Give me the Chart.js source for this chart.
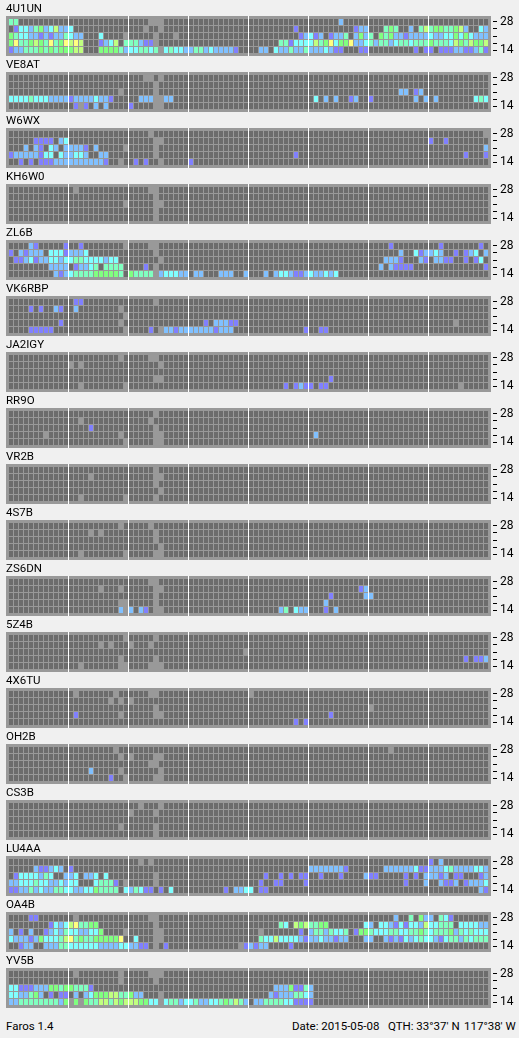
<!DOCTYPE html>
<html>
<head>
<meta charset="utf-8">
<title>Faros</title>
<script src="https://cdn.jsdelivr.net/npm/chart.js@4"></script>
<style>
  html, body { margin: 0; padding: 0; background: #f0f0f0; }
  body { width: 519px; height: 1038px; position: relative; overflow: hidden; font-family: Roboto, sans-serif; font-size: 11.5px; color: #000; }
  canvas { display: block; }
  .foot { position: absolute; top: 1019px; white-space: pre; line-height: 14px; }
</style>
</head>
<body>
<div id="panels"></div>
<div class="foot" style="left:6px">Faros 1.4</div>
<div class="foot" style="left:292px">Date: 2015-05-08</div>
<div class="foot" style="left:388px">QTH: 33°37' N</div>
<div class="foot" style="left:464px">117°38' W</div>
<script>
// rows go top to bottom (28 .. 14), 8 groups of 12 quarter hours
// . no signal, x no data, 1-7 signal level, - a whole empty group
const bands = ["14", "18", "21", "24", "28"];
const stations = ["4U1UN", "VE8AT", "W6WX", "KH6W0", "ZL6B", "VK6RBP", "JA2IGY", "RR9O", "VR2B", "4S7B", "ZS6DN", "5Z4B", "4X6TU", "OH2B", "CS3B", "LU4AA", "OA4B", "YV5B"];

const s4U1UN = [
  "44.......... - ....xxx..... - - ......2..... - -",
  ".13324523622 3........... ...x..x..... - .........1.. .........122 ...454..2.46 45544562..32",
  "543322121224 322...3....x .....x...x.. - ..........12 312.1224.252 4.5452212222 322335353222",
  "574456547457 676...1236.4 44211x...... - ......441333 364573557223 424423443444 544436546556",
  "122444545455 566...555542 334434x34332 2442322221.. ..22.3224224 2223211...11 .........1.1 1.1112211241"
];
const sVE8AT = [
  "- - ...xx.x..... - - - - -",
  "- - .....x...... - - - - -",
  "- ..........x. .....x...... - - - ......22.12. -",
  "333343332222 122223221... ..222xx22... - - .3.2.2..12.. 1........2.2 .2.......343",
  "- .1x1.2.2.... 1....xx..... - - - - -"
];
const sW6WX = [
  "- - ....x....... - - - - ...........x",
  ".....1111.23 - .....xx..... - - - - 1..1........",
  "...2.21.32.2 2221.2.....x .....x...... - - - - ...........2",
  "122222133.32 2332..22.... .....x...... - .........1.. - - .......1...1",
  "..1.1.111222 22222221..x. .1.1..x..... 1........... - - - -"
];
const sKH6W0 = [
  "- .x.......... ....xx...... - - - - -",
  "- - .....x...... - - - - -",
  "- ...........x .....xx..... - - - - -",
  "- - .....x...... - - - - -",
  "- - .....x...... - - - - -"
];
const sZL6B = [
  "....21.....1 ..1........x ....xx...... - - - ....1....... ..1.......1.",
  "1.21222.3331 2223........ .....x...... - - - ......2..312 232..1.123.2",
  ".11231223323 3443333233.. ......x..... - - - ...2221...21 .2211..1.13.",
  "........2222 .12234.4444. ...1.x...... - - - ..2.21111... ...........1",
  ".........212 34444555554. 54444x233322 .22...222..2 ...2.2332112 322323...... - -"
];
const sVK6RBP = [
  "- .11......... .....x...... - - - - -",
  "....1.1..21. .2........x. - - - - - -",
  "- ...........x - - - - - -",
  "..........1. ..........x. - ...1.22211.. - - - .....x......",
  "....11111... ...........x ....1.x22122 222221222... ...........1 ..11........ - -"
];
const sJA2IGY = [
  "- ..........x. ....xx...... - - - - -",
  "- x.x......... ......x..... - - - - -",
  "- - - - - - - -",
  "- - .....xx..... - - ....1....... - -",
  "- ..x........x - - .......1.121 1.11........ - ......x....."
];
const sRR9O = [
  "- - .....x...... - - - - -",
  "- ..x......... ....x....... - - - - -",
  "- ....1....... .....x...... - - - - -",
  ".......x.... ..........x. .....xx..... - - .2.......... - -",
  "- ...........x .....xx..... - - - - -"
];
const sVR2B = [
  "- - .....x...... - - - - -",
  "- ....x....... .....xx..... - - - - -",
  "- - .....x...... - - - - -",
  "- - ......x..... - - - - -",
  "- ..x........x .....x...... - - - - -"
];
const s4S7B = [
  "- ..........x. ....x....... - - - - -",
  "- ....x.x..... .....x...... - - - - -",
  "- - .....x...... - - - - -",
  "- - ......x..... - - - - -",
  "- ..x........x .....xx..... - - - - -"
];
const sZS6DN = [
  "- - ....xx...... - - - - -",
  "- ......x...x. .....xx..... - - ..........12 - -",
  "- - .....x...... - - ....1......2 2........... -",
  "- ..........xx .....x...... - - ...2........ - -",
  "- ..........2x 2.21.xx..... - ......24.322 ...1.2...... - -"
];
const s5Z4B = [
  "- ...........x .....x...... - - - - -",
  "- ......x.x... x...x....... - - - - -",
  "- - - ...........x - - - -",
  "- ..........x. .....x...... - - - - .......1.112",
  "- ..x.......xx ....xxx..... - - - - -"
];
const s4X6TU = [
  "- .x.......x.. ....xx...... - x........... - - -",
  "- ........x.x. x........... - - - - -",
  "- - .....x...... - - - x........... -",
  "- .1........x. .....xx..... - - ....1....... - -",
  "- - - - .........1.1 - - -"
];
const sOH2B = [
  "- .........x.. - - - - ....x....... -",
  "- ..........x. x....xx..... - - - - -",
  "- - ....xx...... - - - - -",
  "- ....2.....x. ......x..... - - - - -",
  "- ........1..x .....xx..... - - - - -"
];
const sCS3B = [
  "- - ..x...x..... - - - - -",
  "- - x....x...... - - - - -",
  "- - - - - - - -",
  "- ..........x. .....x...... - - - - -",
  "- - .....x...... - - - - -"
];
const sLU4AA = [
  "- - ..x.x....... - - - - 1.2.........",
  ".....211232. 1........... - - - 22222221.... ...222222311 222342222332",
  ".13333243..2 23.223.3.... .....x...... - ...1..1.1.11 ..1...1....2 11.....1.1.2 2212.11...12",
  "223334332232 33...34441.x .....x...... - ..1..11....1 - .......1...2 ..2112.12223",
  "112242322443 3223354444.3 24311.1.3... .......1.223 3.11........ - - ..........21"
];
const sOA4B = [
  "....11...... .x.......... ....xx...... - - - .....2..4.52 2.431.......",
  "........1323 674455...... .....x...... - ......43.656 4455.......3 2.3321313326 33444.333322",
  "2.1.2..12324 3322335....x .....xx..... - ..x.......1. 24424334.155 433344334454 344452434333",
  "322212533346 74544555557. .3...xx..... - ..4336333321 22322122...2 2..212132343 321344243444",
  "..122..22244 333333222233 2211.x.1.... ..........x1 2122....1... - - -"
];
const sYV5B = [
  "- .x........x. ....xxx..... - - - - -",
  "- ..........x. .....x...... - - - - -",
  "331112225545 54441....... - - .....2225114 2........... - -",
  "3322452.1.11 .2.235556644 522...x..... - ....21222443 2........... - -",
  "224444444425 x5x544664656 665533x34423 342233454642 .22444433111 1........... - -"
];

const cells = [s4U1UN, sVE8AT, sW6WX, sKH6W0, sZL6B, sVK6RBP, sJA2IGY, sRR9O, sVR2B, s4S7B, sZS6DN, s5Z4B, s4X6TU, sOH2B, sCS3B, sLU4AA, sOA4B, sYV5B];

const panelColor = "#999999";
const emptyColor = "#6c6c6c";
const levelColors = ["#8080ff", "#80c0ff", "#80ffff", "#80ffc0", "#80ff80", "#c0ff80", "#ffff80"];
const hourLines = [11.5, 23.5, 35.5, 47.5, 59.5, 71.5, 83.5];
const uiFont = "Roboto, sans-serif";

function expandRow(row) {
  return row.split(" ").map(g => g === "-" ? "............" : g).join("");
}

function cellColor(ch) {
  if (ch === ".") return emptyColor;
  if (ch === "x") return panelColor;
  return levelColors[Number(ch) - 1];
}

// grey plate behind the cells
const panelPlate = {
  id: "panelPlate",
  beforeDraw(chart) {
    const a = chart.chartArea;
    chart.ctx.fillStyle = panelColor;
    chart.ctx.fillRect(a.left, a.top, a.width, a.height);
  }
};

stations.forEach((name, i) => {
  const canvas = document.createElement("canvas");
  canvas.width = 519;
  canvas.height = 56;
  document.getElementById("panels").appendChild(canvas);

  const datasets = cells[i].map((row, r) => {
    const band = 4 - r;
    const chars = expandRow(row).split("");
    return {
      data: chars.map((ch, col) => ({ x: col, y: [band - 3 / 7, band + 3 / 7] })),
      backgroundColor: chars.map(cellColor),
      barThickness: 4,
      borderWidth: 0,
      inflateAmount: 0,
      grouped: false
    };
  });

  new Chart(canvas, {
    type: "bar",
    data: { datasets },
    plugins: [panelPlate],
    options: {
      responsive: false,
      animation: false,
      events: [],
      layout: { autoPadding: false, padding: { left: 6 } },
      plugins: {
        legend: { display: false },
        tooltip: { enabled: false },
        title: {
          display: true,
          text: name,
          align: "start",
          color: "#000",
          font: { family: uiFont, size: 11.5, weight: "normal", lineHeight: "14px" },
          padding: { top: 2, bottom: 0 }
        }
      },
      scales: {
        x: {
          type: "linear",
          min: -1,
          max: 96,
          offset: false,
          border: { display: false },
          afterBuildTicks: s => { s.ticks = hourLines.map(v => ({ value: v })); },
          afterFit: s => { s.height = 0; s.paddingLeft = 0; s.paddingRight = 0; },
          grid: { color: "#ffffff", lineWidth: 1, drawTicks: false, offset: false },
          ticks: { display: false }
        },
        y: {
          type: "linear",
          position: "right",
          min: -6 / 7,
          max: 4 + 6 / 7,
          border: { display: false },
          afterBuildTicks: s => { s.ticks = bands.map((b, k) => ({ value: k })); },
          afterFit: s => { s.width = 28; s.paddingTop = 0; s.paddingBottom = 0; },
          grid: {
            drawOnChartArea: false,
            tickLength: 6,
            tickColor: "#000",
            tickWidth: 1,
            tickBorderDash: [0, 2, 4, 40]
          },
          ticks: {
            color: "#000",
            padding: 3,
            autoSkip: false,
            maxRotation: 0,
            font: { family: uiFont, size: 12 },
            callback: v => (v === 0 || v === 4) ? bands[v] : ""
          }
        }
      }
    }
  });
});
</script>
</body>
</html>
